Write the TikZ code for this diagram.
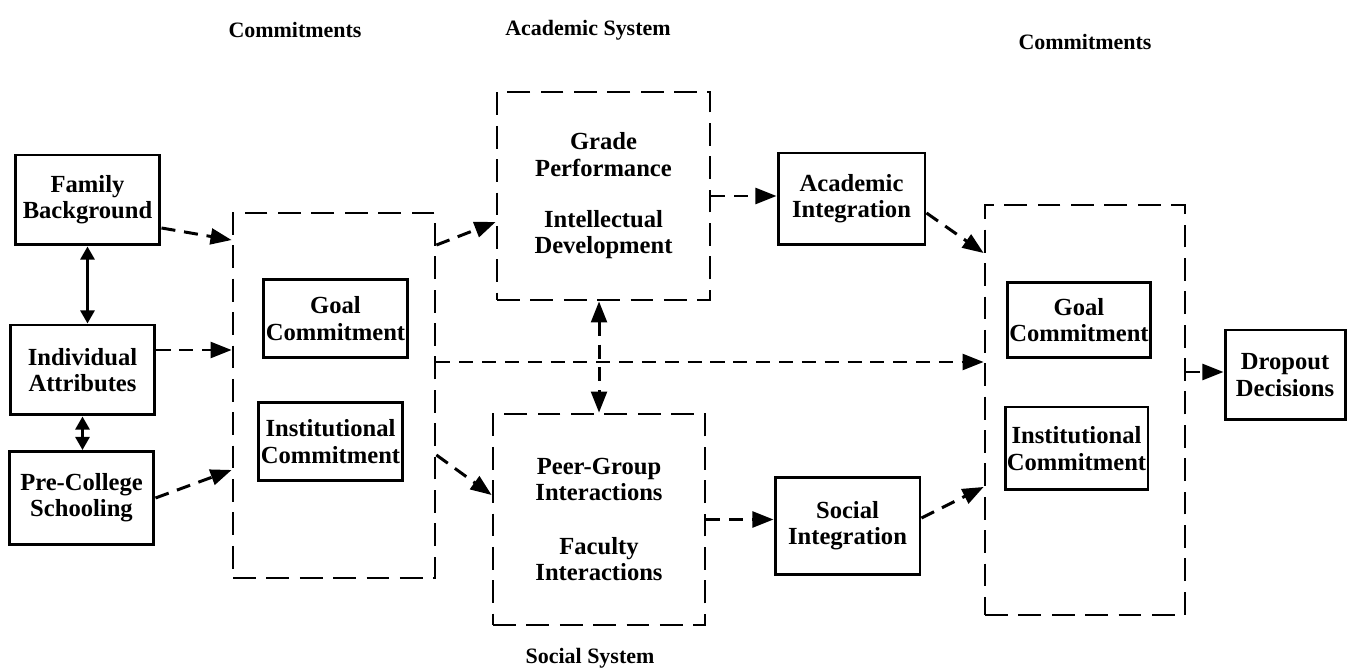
\documentclass[tikz,border=0pt]{standalone}
\usepackage{fontspec}
\setmainfont{Liberation Serif}
\usetikzlibrary{arrows.meta}
\begin{document}
\begin{tikzpicture}[x=0.02cm,y=-0.02cm,
 every node/.style={font=\bfseries\fontsize{14}{15}\selectfont,align=center},
 head/.style={font=\bfseries\fontsize{12.5}{14}\selectfont},
 box/.style={draw,line width=1.7pt,minimum width=2.9cm,minimum height=1.8cm,inner sep=1pt},
 dbox/.style={draw,line width=1.6pt,dash pattern=on 13pt off 6pt},
 darr/.style={line width=1.7pt,dash pattern=on 8pt off 5pt,-{Triangle[length=12pt,width=9pt]}},
 ddarr/.style={line width=1.7pt,dash pattern=on 8pt off 5pt,{Triangle[length=12pt,width=9pt]}-{Triangle[length=12pt,width=9pt]}},
 sarr/.style={line width=1.7pt,{Triangle[length=7.5pt,width=8pt]}-{Triangle[length=7.5pt,width=8pt]}}]
 \useasboundingbox (0,0) rectangle (1365,671);

% headings
\draw (295,30) node[head] (lcomlab) {Commitments};
\draw (588,30) node[head] (acadlab) {Academic System};
\draw (1085,42) node[head] (rcomlab) {Commitments};
\draw (590,658) node[head] (soclab) {Social System};

% background boxes
\draw (87.5,200) node[box] (fam) {Family\\Background};
\draw (82.5,370) node[box] (ind) {Individual\\Attributes};
\draw (81.5,498) node[box,minimum height=1.86cm] (pre) {Pre-College\\Schooling};

% first commitments
\draw (334,395.5) node[dbox,minimum width=4.04cm,minimum height=7.3cm] (lbox) {};
\draw (335.5,318.5) node[box,minimum height=1.55cm] (lgoal) {Goal\\Commitment};
\draw (330.5,441.5) node[box,minimum height=1.55cm] (linst) {Institutional\\Commitment};

% academic and social systems
\draw (603.5,196) node[dbox,minimum width=4.26cm,minimum height=4.16cm] (acad)
 {Grade\\Performance\\[0.5cm]Intellectual\\Development};
\draw (599,519.5) node[dbox,minimum width=4.24cm,minimum height=4.22cm] (soc)
 {Peer-Group\\Interactions\\[0.55cm]Faculty\\Interactions};

% integration
\draw (851.5,199) node[box,minimum width=2.94cm,minimum height=1.84cm] (aint) {Academic\\Integration};
\draw (847.5,526) node[box,minimum height=1.96cm] (sint) {Social\\Integration};

% later commitments
\draw (1085,410) node[dbox,minimum width=4cm,minimum height=8.2cm] (rbox) {};
\draw (1079,320) node[box,minimum width=2.84cm,minimum height=1.5cm] (rgoal) {Goal\\Commitment};
\draw (1076.5,448.5) node[box,minimum width=2.86cm,minimum height=1.66cm] (rinst) {Institutional\\Commitment};

\draw (1285,375) node[box,minimum width=2.4cm] (drop) {Dropout\\Decisions};

% arrows
\draw [sarr] (fam.south) -- (fam.south |- ind.north);
\draw [sarr] (ind.south) -- (ind.south |- pre.north);
\draw [darr] ([yshift=-0.56cm]fam.east) -- ([yshift=3.11cm]lbox.west);
\draw [darr] ([yshift=0.4cm]ind.east) coordinate (p1) -- (p1 -| lbox.west);
\draw [darr] (pre.east) -- ([yshift=-1.49cm]lbox.west);
\draw [darr] ([yshift=3.01cm]lbox.east) -- ([yshift=-0.52cm]acad.west);
\draw [darr] ([yshift=-1.19cm]lbox.east) -- ([yshift=0.49cm]soc.west);
\draw [darr] ([yshift=0.67cm]lbox.east) coordinate (p2) -- (p2 -| rbox.west);
\draw [ddarr] (acad.south -| soc.north) -- (soc.north);
\draw [darr] (acad.east) -- (acad.east -| aint.west);
\draw [darr] (soc.east) -- (soc.east -| sint.west);
\draw [darr] ([yshift=-0.28cm]aint.east) -- ([yshift=3.14cm]rbox.west);
\draw [darr] ([yshift=0.16cm]sint.east) -- ([yshift=-1.54cm]rbox.west);
\draw [darr] ([yshift=0.76cm]rbox.east) coordinate (p3) -- (p3 -| drop.west);

\end{tikzpicture}
\end{document}
